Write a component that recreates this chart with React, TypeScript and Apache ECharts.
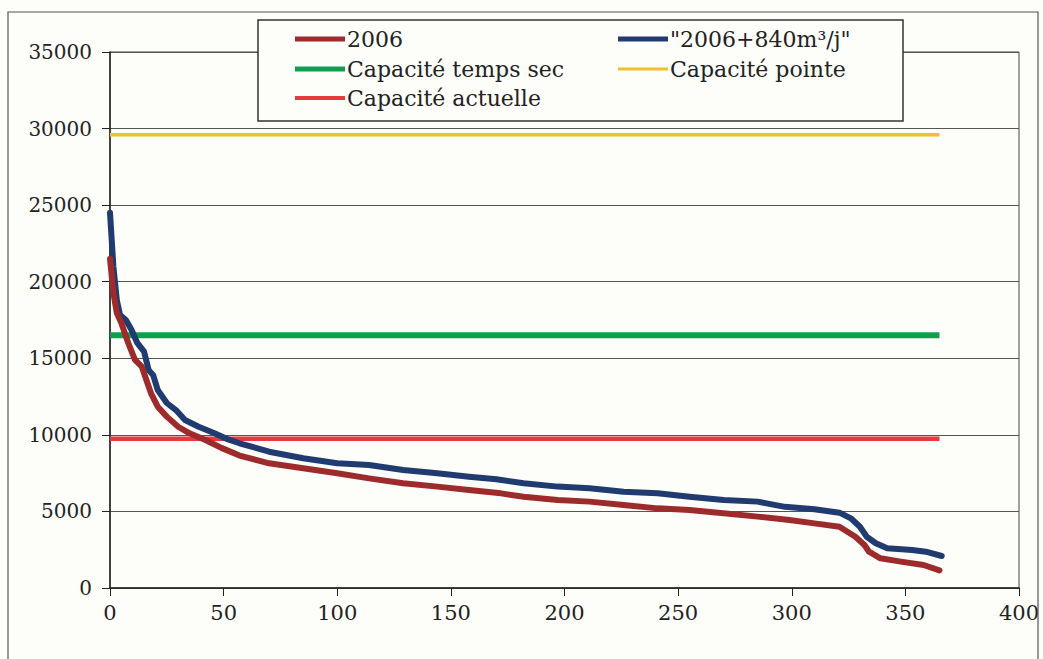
import React, { useEffect, useRef } from "react";
import * as echarts from "echarts";

const days2006 = [0, 1.5, 3, 5, 8, 11, 14, 16, 18, 21, 25, 30, 35, 42, 49, 57, 70, 85, 100, 114, 129, 144, 158, 172, 182, 197, 211, 226, 241, 255, 270, 285, 299, 310, 321, 328, 332, 334, 339, 348, 358, 365];
const values2006 = [21500, 19260, 17960, 17300, 16000, 14890, 14450, 13580, 12730, 11840, 11190, 10530, 10100, 9660, 9150, 8650, 8140, 7820, 7490, 7160, 6840, 6620, 6400, 6180, 5960, 5750, 5640, 5420, 5200, 5090, 4880, 4660, 4440, 4220, 4000, 3350, 2810, 2370, 1940, 1720, 1500, 1150];

const daysPlus = [0, 1.5, 3, 4.4, 7, 9.5, 12, 15, 17, 19, 21, 25, 29, 33, 39, 46, 52, 57, 70, 85, 100, 114, 129, 144, 158, 170, 182, 197, 211, 226, 241, 255, 270, 285, 297, 310, 321, 326, 330, 333, 337, 342, 353, 359, 366];
const valuesPlus = [24500, 20980, 18800, 17830, 17500, 16850, 16000, 15430, 14240, 13900, 12930, 12080, 11620, 10970, 10530, 10100, 9700, 9450, 8900, 8470, 8140, 8030, 7700, 7490, 7270, 7100, 6840, 6620, 6510, 6290, 6180, 5960, 5750, 5640, 5300, 5140, 4920, 4550, 4000, 3350, 2920, 2590, 2480, 2370, 2090];

const capacityDays = [0, 365];
const capaciteTempsSec = 16500;
const capacitePointe = 29600;
const capaciteActuelle = 9750;

const seriesNames = ["2006", "\"2006+840m³/j\"", "Capacité temps sec", "Capacité pointe", "Capacité actuelle"];
const seriesColors = ["#9E2B2C", "#1F3B6F", "#0FA04D", "#F3BF2F", "#E8393F"];

const font = "DejaVu Serif";

export default function App() {
  const ref = useRef<HTMLDivElement>(null);
  useEffect(() => {
    if (!ref.current) return;
    const chart = echarts.init(ref.current, null, { renderer: "svg" });
    const pairs = (xs: number[], ys: number[]) => xs.map((x, i) => [x, ys[i]]);
    const flat = (v: number) => capacityDays.map((d) => [d, v]);
    const legendPos = [
      { left: 295, top: 28, h: 5 },
      { left: 618, top: 28, h: 5 },
      { left: 295, top: 58, h: 5 },
      { left: 618, top: 58, h: 3 },
      { left: 295, top: 87, h: 4 },
    ];
    chart.setOption({
      animation: false,
      backgroundColor: "#FDFDF9",
      textStyle: { fontFamily: font },
      grid: {
        left: 110,
        right: 24,
        top: 52,
        bottom: 71,
        show: true,
        borderColor: "#444",
        borderWidth: 1,
      },
      legend: seriesNames.map((n, i) => ({
        data: [n],
        left: legendPos[i].left,
        top: legendPos[i].top,
        padding: 0,
        icon: "rect",
        itemWidth: 50,
        itemHeight: legendPos[i].h,
        selectedMode: false,
        textStyle: { fontFamily: font, fontSize: 22, color: "#222", padding: [0, 0, 0, -3] },
      })),
      graphic: [
        {
          type: "rect",
          z: 3,
          shape: { x: 258, y: 20, width: 645, height: 101 },
          style: { fill: "#FDFDF9", stroke: "#333", lineWidth: 1.5 },
        },
        {
          type: "rect",
          z: 3,
          silent: true,
          shape: { x: 8, y: 12, width: 1030, height: 700 },
          style: { fill: "none", stroke: "#555", lineWidth: 1.2 },
        },
      ],
      xAxis: {
        type: "value",
        min: 0,
        max: 400,
        interval: 50,
        axisLine: { lineStyle: { color: "#222", width: 1.5 } },
        axisTick: { show: true, length: 8, lineStyle: { color: "#222" } },
        axisLabel: { fontFamily: font, fontSize: 21, color: "#222", margin: 14 },
        splitLine: { show: false },
      },
      yAxis: {
        type: "value",
        min: 0,
        max: 35000,
        interval: 5000,
        axisLine: { show: true, lineStyle: { color: "#222", width: 1.5 } },
        axisTick: { show: true, length: 8, lineStyle: { color: "#222" } },
        axisLabel: {
          fontFamily: font,
          fontSize: 20,
          color: "#222",
          margin: 18,
          formatter: (v: number) => String(v),
        },
        splitLine: { show: true, lineStyle: { color: "#555", width: 1 } },
      },
      series: [
        {
          name: seriesNames[3],
          type: "line",
          data: flat(capacitePointe),
          showSymbol: false,
          color: seriesColors[3],
          lineStyle: { width: 3.5 },
        },
        {
          name: seriesNames[2],
          type: "line",
          data: flat(capaciteTempsSec),
          showSymbol: false,
          color: seriesColors[2],
          lineStyle: { width: 6 },
        },
        {
          name: seriesNames[4],
          type: "line",
          data: flat(capaciteActuelle),
          showSymbol: false,
          color: seriesColors[4],
          lineStyle: { width: 4.5 },
        },
        {
          name: seriesNames[1],
          type: "line",
          data: pairs(daysPlus, valuesPlus),
          showSymbol: false,
          color: seriesColors[1],
          lineStyle: { width: 6, join: "round", cap: "round" },
        },
        {
          name: seriesNames[0],
          type: "line",
          data: pairs(days2006, values2006),
          showSymbol: false,
          color: seriesColors[0],
          lineStyle: { width: 6, join: "round", cap: "round" },
        },
      ],
    });
    return () => chart.dispose();
  }, []);
  return (
    <div
      ref={ref}
      style={{ position: "fixed", left: 0, top: 0, width: 1043, height: 659 }}
    />
  );
}
